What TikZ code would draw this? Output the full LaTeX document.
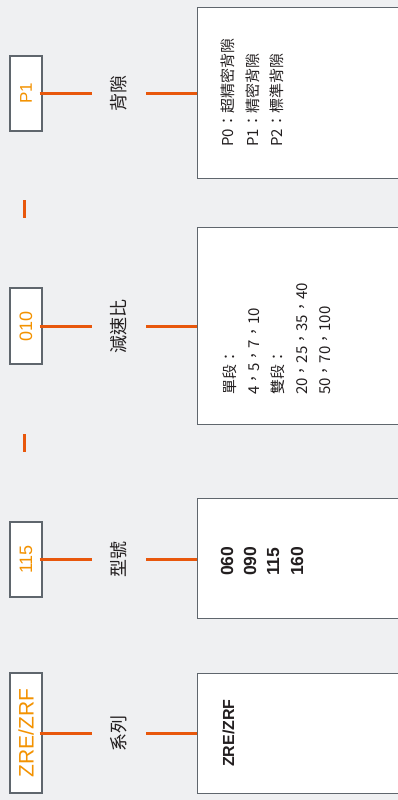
\documentclass[tikz,border=0pt]{standalone}
\usepackage{fontspec}
\usepackage{graphicx}
\setmainfont{Liberation Sans}
\newfontfamily\cjk{Noto Sans CJK TC}
\definecolor{bg}{HTML}{EFF0F2}
\definecolor{boxgray}{HTML}{5F666D}
\definecolor{lineor}{HTML}{E8570C}
\definecolor{textor}{HTML}{F39200}
\definecolor{ink}{HTML}{231F20}
\tikzset{
  lbox/.style={draw=boxgray, fill=white, line width=1.3pt, minimum width=32pt, inner sep=0pt, text=textor},
  rbox/.style={draw=boxgray, fill=white, line width=1.3pt, minimum width=215pt, inner sep=0pt, anchor=north west},
  midlab/.style={minimum width=54pt, inner sep=0pt, text=ink, font=\cjk\fontsize{18}{18}\selectfont},
  conn/.style={draw=lineor, line width=3pt},
  rtext/.style={rotate=90, anchor=base west, inner sep=0pt, text=ink, font=\cjk\fontsize{15}{15}\selectfont},
  rbold/.style={rotate=90, anchor=base west, inner sep=0pt, text=ink, font=\bfseries\fontsize{17.5}{17.5}\selectfont}
}
\begin{document}
\begin{tikzpicture}[x=1pt,y=-1pt]
\fill[bg] (0,0) rectangle (398,800);
\useasboundingbox (0,0) rectangle (398,800);
\clip (0,0) rectangle (398,800);

% right boxes
\node[rbox, minimum height=171pt] (rb1) at (197,7) {};
\node[rbox, minimum height=197pt] (rb2) at (197,227) {};
\node[rbox, minimum height=120pt] (rb3) at (197,498) {};
\node[rbox, minimum height=120pt] (rb4) at (197,673) {};

% middle labels
\node[midlab] (m1) at (119,93.5) {\rotatebox{90}{背隙}};
\node[midlab] (m2) at (119,326) {\rotatebox{90}{減速比}};
\node[midlab] (m3) at (119,559.5) {\rotatebox{90}{型號}};
\node[midlab] (m4) at (119,733) {\rotatebox{90}{系列}};

% left boxes
\coordinate (c1) at (26,93.5);
\coordinate (c2) at (26,326);
\coordinate (c3) at (26,559.5);
\coordinate (c4) at (26,733);

% connectors
\draw[conn] ([xshift=13pt]c1) -- (m1.west);
\draw[conn] (m1.east) -- (m1.east -| rb1.west);
\draw[conn] ([xshift=13pt]c2) -- (m2.west);
\draw[conn] (m2.east) -- (m2.east -| rb2.west);
\draw[conn] ([xshift=13pt]c3) -- (m3.west);
\draw[conn] (m3.east) -- (m3.east -| rb3.west);
\draw[conn] ([xshift=13pt]c4) -- (m4.west);
\draw[conn] (m4.east) -- (m4.east -| rb4.west);

\node[lbox, minimum height=75pt, font=\fontsize{17}{17}\selectfont] (lb1) at (c1) {\rotatebox{90}{P1}};
\node[lbox, minimum height=76pt, font=\fontsize{18}{18}\selectfont] (lb2) at (c2) {\rotatebox{90}{010}};
\node[lbox, minimum height=75pt, font=\fontsize{18}{18}\selectfont] (lb3) at (c3) {\rotatebox{90}{115}};
\node[lbox, minimum height=120pt, font=\fontsize{21}{21}\selectfont] (lb4) at (c4) {\rotatebox{90}{ZRE/ZRF}};
\draw[conn] ([xshift=-3pt]lb1.east) -- (lb1.east);
\draw[conn] ([xshift=-3pt]lb2.east) -- (lb2.east);
\draw[conn] ([xshift=-3pt]lb3.east) -- (lb3.east);
\draw[conn] ([xshift=-3pt]lb4.east) -- (lb4.east);

% separator dashes
\coordinate (d1a) at (24.5,200);
\coordinate (d1b) at (24.5,218);
\coordinate (d2a) at (24.5,434);
\coordinate (d2b) at (24.5,452);
\draw[conn] (d1a) -- (d1b);
\draw[conn] (d2a) -- (d2b);

% text in right boxes
\node[rtext] (p0) at (233.5,147) {P0：超精密背隙};
\node[rtext] (p1) at (258,147) {P1：精密背隙};
\node[rtext] (p2) at (282,147) {P2：標準背隙};

\node[rtext] (r1) at (235.5,395) {單段：};
\node[rtext] (r2) at (259.5,395) {4，5，7，10};
\node[rtext] (r3) at (283.5,395) {雙段：};
\node[rtext] (r4) at (307.5,395) {20，25，35，40};
\node[rtext] (r5) at (330.5,395) {50，70，100};

\node[rbold] (s1) at (233,576) {060};
\node[rbold] (s2) at (256,576) {090};
\node[rbold] (s3) at (279,576) {115};
\node[rbold] (s4) at (303,576) {160};

\node[rbold, font=\bfseries\fontsize{16}{16}\selectfont] (z1) at (234,767) {ZRE/ZRF};
\end{tikzpicture}
\end{document}
